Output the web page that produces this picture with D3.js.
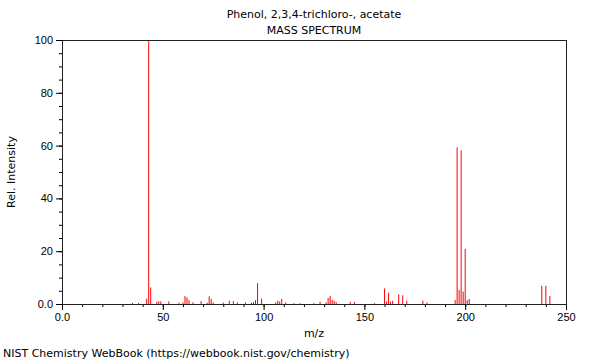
<!DOCTYPE html>
<html lang="en">
  <head>
    <meta charset="utf-8" />
    <title>Phenol, 2,3,4-trichloro-, acetate - mass spectrum</title>
    <script type="text/javascript" src="https://d3js.org/d3.v7.min.js"></script>
    <style>
      body {
        margin: 0;
        background: white;
      }
      svg {
        font-family: "DejaVu Sans", sans-serif;
        display: block;
      }
      .axis text {
        font-size: 11px;
        fill: black;
      }
      .axis line {
        stroke: black;
      }
      .peak {
        stroke: red;
        stroke-width: 1px;
      }
      .label {
        font-size: 11px;
        fill: black;
      }
    </style>
  </head>

  <body>
    <script>
      let w = 600;
      let h = 360;
      let margin = { top: 40, right: 34, bottom: 56, left: 62 };

      let titleLines = ["Phenol, 2,3,4-trichloro-, acetate", "MASS SPECTRUM"];
      let xLabel = "m/z";
      let yLabel = "Rel. Intensity";
      let footer = "NIST Chemistry WebBook (https://webbook.nist.gov/chemistry)";

      // peaks
      let mz = [35, 38, 42, 43, 44, 47, 48, 49, 53, 58, 60, 61, 62, 63, 65, 69, 72, 73, 74, 75,
        80, 83, 85, 87, 91, 94, 95, 96, 97, 99, 106, 107, 108, 109, 111, 115, 118, 125, 128,
        131, 132, 133, 134, 135, 136, 143, 145, 155, 160, 161, 162, 163, 164, 167, 169, 171,
        179, 181, 195, 196, 197, 198, 199, 200, 201, 202, 238, 240, 242];
      let intensity = [0.4, 0.4, 2.0, 100, 6.3, 0.8, 1.0, 1.0, 1.0, 0.5, 0.6, 3.0, 2.5, 1.5, 0.7, 1.1, 0.5, 2.9, 1.9, 0.6,
        0.5, 1.2, 1.1, 0.6, 0.6, 0.5, 0.7, 1.5, 7.9, 2.1, 0.6, 1.2, 1.0, 1.9, 0.6, 0.3, 0.3, 0.3, 0.8,
        0.6, 2.3, 3.1, 1.6, 1.2, 0.7, 0.8, 0.8, 0.3, 5.9, 0.9, 4.3, 0.9, 1.2, 3.6, 3.3, 1.2,
        1.3, 0.6, 1.5, 59.3, 5.3, 58.2, 4.7, 20.9, 1.5, 1.9, 6.9, 6.9, 3.0];

      let xMajor = [0, 50, 100, 150, 200, 250];
      let xMinor = d3.range(0, 251, 10);
      let yMajor = [0, 20, 40, 60, 80, 100];
      let yMinor = d3.range(0, 101, 5);

      let data = mz.map((m, i) => ({ mz: m, y: intensity[i] }));

      let svg = d3.select("body").append("svg").attr("width", w).attr("height", h);

      let x_scale = d3.scaleLinear().domain([0, 250]).range([margin.left, w - margin.right]);
      let y_scale = d3.scaleLinear().domain([0, 100]).range([h - margin.bottom, margin.top]);

      let fmt = (d) => (d === 0 ? "0.0" : d3.format("d")(d));

      // minor ticks first, no labels
      svg.append("g")
        .attr("class", "axis")
        .attr("transform", `translate(0,${h - margin.bottom})`)
        .call(d3.axisBottom(x_scale).tickValues(xMinor).tickSize(3).tickFormat(""))
        .call((g) => g.select(".domain").remove());

      svg.append("g")
        .attr("class", "axis")
        .attr("transform", `translate(0,${h - margin.bottom})`)
        .call(d3.axisBottom(x_scale).tickValues(xMajor).tickSize(6).tickPadding(3).tickFormat(fmt))
        .call((g) => g.select(".domain").remove());

      svg.append("g")
        .attr("class", "axis")
        .attr("transform", `translate(${margin.left},0)`)
        .call(d3.axisLeft(y_scale).tickValues(yMinor).tickSize(3).tickFormat(""))
        .call((g) => g.select(".domain").remove());

      svg.append("g")
        .attr("class", "axis")
        .attr("transform", `translate(${margin.left},0)`)
        .call(d3.axisLeft(y_scale).tickValues(yMajor).tickSize(6).tickPadding(3).tickFormat(fmt))
        .call((g) => g.select(".domain").remove());

      // peaks
      svg.selectAll("line.peak")
        .data(data)
        .join("line")
        .attr("class", "peak")
        .attr("x1", (d) => x_scale(d.mz))
        .attr("x2", (d) => x_scale(d.mz))
        .attr("y1", y_scale(0))
        .attr("y2", (d) => y_scale(d.y));

      // frame
      svg.append("rect")
        .attr("x", margin.left + 0.5)
        .attr("y", margin.top + 0.5)
        .attr("width", w - margin.left - margin.right)
        .attr("height", h - margin.top - margin.bottom)
        .attr("fill", "none")
        .attr("stroke", "#222")
        .attr("stroke-width", 1);

      let cx = (margin.left + w - margin.right) / 2;

      svg.selectAll("text.title")
        .data(titleLines)
        .join("text")
        .attr("class", "label title")
        .attr("x", cx)
        .attr("y", (d, i) => 18 + i * 16)
        .attr("text-anchor", "middle")
        .text((d) => d);

      svg.append("text")
        .attr("class", "label")
        .attr("x", cx)
        .attr("y", 337)
        .attr("text-anchor", "middle")
        .text(xLabel);

      svg.append("text")
        .attr("class", "label")
        .attr("transform", `translate(15,${(margin.top + h - margin.bottom) / 2}) rotate(-90)`)
        .attr("text-anchor", "middle")
        .text(yLabel);

      svg.append("text")
        .attr("class", "label")
        .attr("x", 3)
        .attr("y", 357)
        .text(footer);
    </script>
  </body>
</html>
